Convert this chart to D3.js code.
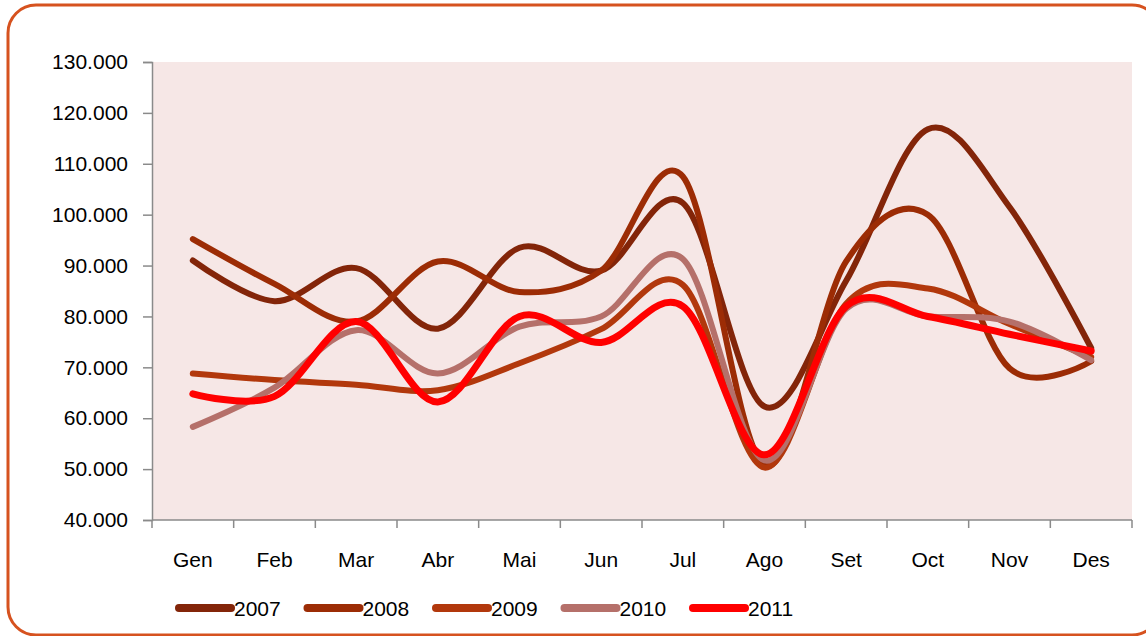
<!DOCTYPE html>
<html>
<head>
<meta charset="utf-8">
<script src="https://cdn.jsdelivr.net/npm/d3@7"></script>
<style>
  html, body { margin: 0; padding: 0; background: #fff; }
  svg { display: block; font-family: "Liberation Sans", Arial, sans-serif; }
</style>
</head>
<body>
<svg id="chart" width="1146" height="636"></svg>
<script>
// monthly values
const months = ['Gen','Feb','Mar','Abr','Mai','Jun','Jul','Ago','Set','Oct','Nov','Des'];
const years = ['2007','2008','2009','2010','2011'];
const v2007 = [91000, 83000, 89500, 77600, 93500, 89000, 102300, 62300, 87000, 116800, 101500, 73800];
const v2008 = [95200, 86400, 79000, 90800, 84800, 89000, 107500, 50800, 90800, 100000, 69800, 71200];
const v2009 = [68800, 67500, 66600, 65500, 70800, 77500, 86200, 50300, 82500, 85500, 78500, 72000];
const v2010 = [58300, 66000, 77300, 68800, 78000, 80000, 91300, 51700, 81500, 80000, 79000, 71400];
const v2011 = [64800, 64300, 79000, 63200, 80000, 74900, 82000, 52800, 82000, 80000, 76500, 73200];
const yTicks = [40000, 50000, 60000, 70000, 80000, 90000, 100000, 110000, 120000, 130000];

const seriesValues = [v2007, v2008, v2009, v2010, v2011];
const colors = ['#832509', '#9c2c05', '#b2380c', '#b5706a', '#ff0000'];
const widths = [6, 6, 6, 6, 7];

const svg = d3.select('#chart');
const plotLeft = 152, plotRight = 1132, plotTop = 62, plotBottom = 520;

// outer frame
svg.append('rect')
  .attr('x', 8).attr('y', 5)
  .attr('width', 1152).attr('height', 630)
  .attr('rx', 28).attr('ry', 28)
  .attr('fill', '#fff')
  .attr('stroke', '#d6521f')
  .attr('stroke-width', 3);

// plot area
svg.append('rect')
  .attr('x', plotLeft).attr('y', plotTop)
  .attr('width', plotRight - plotLeft).attr('height', plotBottom - plotTop)
  .attr('fill', '#f6e7e6');

const x = d3.scaleBand().domain(months).range([plotLeft, plotRight]);
const y = d3.scaleLinear().domain([40000, 130000]).range([plotBottom, plotTop]);

const fmt = d => d3.format(',')(d).replace(/,/g, '.');

// y axis
const yAxis = svg.append('g')
  .attr('transform', 'translate(' + plotLeft + ',0)')
  .call(d3.axisLeft(y).tickValues(yTicks).tickFormat(fmt).tickSizeOuter(0).tickSize(9).tickPadding(15));
yAxis.select('.domain').attr('stroke', '#8a8a8a').attr('stroke-width', 1.5);
yAxis.selectAll('.tick line').attr('stroke', '#8a8a8a').attr('stroke-width', 1.5);
yAxis.selectAll('.tick text')
  .attr('font-size', 21).attr('fill', '#000')
  .attr('font-family', '"Liberation Sans", Arial, sans-serif');

// x axis: ticks on band boundaries
const xAxisG = svg.append('g').attr('transform', 'translate(0,' + plotBottom + ')');
xAxisG.append('line')
  .attr('x1', plotLeft).attr('x2', plotRight)
  .attr('stroke', '#8a8a8a').attr('stroke-width', 1.5);
xAxisG.selectAll('line.tk')
  .data(months.concat(['end']))
  .enter().append('line')
  .attr('class', 'tk')
  .attr('x1', (d, i) => plotLeft + i * x.step())
  .attr('x2', (d, i) => plotLeft + i * x.step())
  .attr('y1', 0).attr('y2', 8)
  .attr('stroke', '#8a8a8a').attr('stroke-width', 1.5);
xAxisG.selectAll('text')
  .data(months)
  .enter().append('text')
  .attr('x', d => x(d) + x.bandwidth() / 2)
  .attr('y', 47)
  .attr('text-anchor', 'middle')
  .attr('font-size', 21)
  .text(d => d);

// lines
const line = d3.line()
  .x((d, i) => x(months[i]) + x.bandwidth() / 2)
  .y(d => y(d))
  .curve(d3.curveCardinal.tension(0));

svg.append('g').selectAll('path')
  .data(seriesValues)
  .enter().append('path')
  .attr('d', d => line(d))
  .attr('fill', 'none')
  .attr('stroke', (d, i) => colors[i])
  .attr('stroke-width', (d, i) => widths[i])
  .attr('stroke-linecap', 'round')
  .attr('stroke-linejoin', 'round');

// legend
const legend = svg.append('g').attr('transform', 'translate(0,608)');
const lg = legend.selectAll('g')
  .data(years)
  .enter().append('g')
  .attr('transform', (d, i) => 'translate(' + (179 + i * 128.5) + ',0)');
lg.append('line')
  .attr('x1', 0).attr('x2', 52)
  .attr('stroke', (d, i) => colors[i])
  .attr('stroke-width', 8)
  .attr('stroke-linecap', 'round');
lg.append('text')
  .attr('x', 55).attr('y', 7.5)
  .attr('font-size', 21)
  .text(d => d);
</script>
</body>
</html>
